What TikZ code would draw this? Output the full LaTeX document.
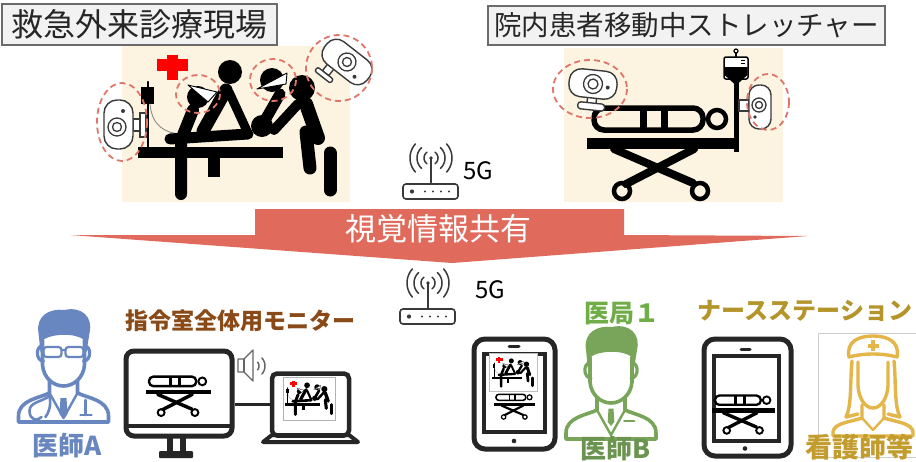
\documentclass[tikz,border=0pt]{standalone}
\usepackage{fontspec}
\newfontfamily\jp{Noto Sans CJK JP}
\definecolor{cream}{HTML}{FDF3E1}
\definecolor{titlefill}{HTML}{F2F2F2}
\definecolor{titleline}{HTML}{6B6B6B}
\definecolor{banner}{HTML}{E06B5D}
\definecolor{camring}{HTML}{E0766A}
\definecolor{icongray}{HTML}{3A3A3A}
\definecolor{devblack}{HTML}{262626}
\definecolor{docblue}{HTML}{6886C0}
\definecolor{docgreen}{HTML}{78A55A}
\definecolor{nursegold}{HTML}{E4B548}
\definecolor{monbrown}{HTML}{8A4A18}
\definecolor{ikyoku}{HTML}{70AD47}
\definecolor{station}{HTML}{B4952A}
\definecolor{kango}{HTML}{C39C2E}
\definecolor{crossred}{HTML}{FF0000}

\tikzset{
  titlebox/.style={draw=titleline, line width=2pt, fill=titlefill, inner sep=0pt, text=black!85},
  camring/.style={draw=camring, line width=1.8pt, dash pattern=on 6pt off 4pt, line cap=butt},
  cambody/.style={draw=icongray, fill=white, line width=1.4pt},
  camline/.style={draw=icongray, line width=1.3pt},
  wave/.style={draw=icongray, line width=1.5pt, line cap=round},
  boldtxt/.style={inner sep=0pt, font=\jp\bfseries\fontsize{#1}{#1}\selectfont},
  plaintxt/.style={inner sep=0pt, font=\jp\fontsize{#1}{#1}\selectfont},
  % emergency room scene: staff around a patient on a bed
  pics/erscene/.style={code={
    \begin{scope}[shift={(-238,-125)}, line cap=round]
      \fill[crossred] (157,59) rectangle (188,71);
      \fill[crossred] (167,55) rectangle (178,80);
      \draw[line width=#1*2.2pt] (148,82) -- (148,156);
      \fill (141,87) rectangle (154,104);
      \draw[black!45, line width=#1*0.9pt] (150,104) .. controls (152,126) and (165,133) .. (181,134);
      \fill (138,147) rectangle (283,158);
      \draw[line width=#1*11pt] (170,139) -- (248,134);
      \fill (262,126) circle (11);
      \fill (198,97) circle (11);
      \draw[line width=#1*12pt] (193,110) -- (181,140) -- (181,194);
      \fill (230,72) circle (12);
      \draw[line width=#1*13pt] (226,90) -- (203,131);
      \draw[line width=#1*9pt] (229,92) -- (247,131);
      \draw[line width=#1*12pt, line cap=butt] (214,152) -- (214,177);
      \fill (272,80) circle (12);
      \draw[line width=#1*11pt] (280,94) -- (264,122);
      \fill (302,88) circle (13);
      \draw[line width=#1*10pt] (298,104) -- (274,130);
      \draw[line width=#1*14pt] (306,104) -- (318,138);
      \draw[line width=#1*13pt] (306,132) -- (310,168);
      \draw[line width=#1*13pt] (330,153) -- (330,190);
      \filldraw[fill=white, line width=#1*0.9pt, line join=round] (188,85) -- (217,92) -- (208,102) -- cycle;
      \filldraw[fill=white, line width=#1*0.9pt, line join=round] (257,89) -- (287,73) -- (286,84) -- cycle;
    \end{scope}
  }},
  % stretcher with a lying patient
  pics/stretcher/.style={code={
    \begin{scope}[shift={(-660,-150)}]
      \draw[line width=#1*5.5pt, rounded corners=#1*10pt] (594,108) rectangle (703,130);
      \fill (640,108) rectangle (647,130);
      \fill (661,108) rectangle (668,130);
      \draw[line width=#1*4.5pt] (717,119) circle (9);
      \fill (587,138) rectangle (737,149);
      \draw[line width=#1*8pt, line cap=round] (614,149) -- (693,183);
      \draw[line width=#1*8pt, line cap=round] (694,149) -- (626,184);
      \draw[line width=#1*4.5pt] (622,191) circle (8);
      \draw[line width=#1*4.5pt] (700,191) circle (8);
    \end{scope}
  }},
  % wireless router
  pics/router/.style={code={
    \draw[wave] (0,0) -- (0,26);
    \fill[icongray] (0,0) circle (1.8);
    \foreach \r/\a in {7/55,14/48,21/42}{
      \draw[wave] plot[domain=-\a:\a, samples=15, variable=\t] ({\r*cos(\t)},{\r*sin(\t)});
      \draw[wave] plot[domain=-\a:\a, samples=15, variable=\t] ({-\r*cos(\t)},{\r*sin(\t)});
    }
    \draw[wave, line width=1.6pt, rounded corners=3pt] (-28,26) rectangle (27,41);
    \fill[icongray] (-19,33.5) circle (2.1);
    \foreach \x in {-6,2,10,18} \fill[icongray] (\x,33.5) circle (1.2);
  }},
  % outline bust: face, neck, shoulders, collar
  pics/bust/.style={code={
    \draw[line width=3.6pt, line join=round, line cap=round] (-21,-20) -- (-21,5) .. controls (-20,18) and (-10,26) .. (0,26) .. controls (10,26) and (20,18) .. (21,5) -- (21,-20);
    \draw[line width=3.2pt, line cap=round] (-21,-14) .. controls (-28,-14) and (-28,1) .. (-20,1);
    \draw[line width=3.2pt, line cap=round] (21,-14) .. controls (28,-14) and (28,1) .. (20,1);
    \draw[line width=3.6pt, line join=round, line cap=round] (-14,20) -- (-14,33) .. controls (-24,38) and (-45,40) .. (-45,56) -- (-45,62) -- (45,62) -- (45,56) .. controls (45,40) and (24,38) .. (14,33) -- (14,20);
    \draw[line width=2.4pt, line join=round, line cap=round] (-14,33) -- (0,58) -- (14,33);
  }},
  pics/malehair/.style={code={
    \fill (-23,-8) -- (-25,-27) .. controls (-28,-44) and (-14,-52) .. (1,-50) .. controls (18,-54) and (30,-43) .. (26,-27) -- (23,-8) -- (21,-8) -- (21,-20) .. controls (12,-27) and (-10,-27) .. (-21,-20) -- (-21,-8) -- cycle;
  }},
}

\begin{document}
\begin{tikzpicture}[x=1pt, y=-1pt]
\useasboundingbox (0,0) rectangle (916,461);
\fill[white] (0,0) rectangle (916,461);

% ---------- scene backgrounds ----------
\fill[cream] (122,46) rectangle (350,202);
\fill[cream] (564,48) rectangle (783,202);

% ---------- titles ----------
\node[titlebox, minimum width=275pt, minimum height=41pt, plaintxt=32] (erTitle) at (139.5,24.5) {救急外来診療現場};
\node[titlebox, minimum width=397pt, minimum height=39pt, plaintxt=27.5] (moveTitle) at (686.5,25.5) {院内患者移動中ストレッチャー};

% ---------- emergency room scene ----------
\pic at (238,125) {erscene=1};
% wall camera on the monitor pole
\draw[cambody] (133,119) rectangle (140,131);
\draw[cambody] (140,113) rectangle (146,137);
\draw[cambody, rounded corners=13pt] (104,100) rectangle (133,149);
\draw[camline] (117,127) circle (9) (117,127) circle (4.5);
\fill[icongray] (123,111) circle (2);
% ceiling camera
\begin{scope}[shift={(347,62)}, rotate=-38]
  \draw[cambody] (-14,12) rectangle (-6,22);
  \draw[cambody, rounded corners=2pt] (-20,22) rectangle (0,27);
  \draw[cambody, rounded corners=12pt] (-27,-14) rectangle (27,14);
  \draw[camline] (0,0) circle (9) (0,0) circle (4.5);
  \fill[icongray] (15,7) circle (2);
\end{scope}
\draw[camring] (122,122) ellipse (25 and 39);
\draw[camring] (198,94) ellipse (22 and 19);
\draw[camring] (273,80) ellipse (23 and 21);
\draw[camring] (339,68) circle (33);

% ---------- stretcher scene ----------
\pic at (660,150) {stretcher=1};
% drip stand
\draw[line width=5pt] (736,80) -- (736,152);
\draw[line width=1.5pt, rounded corners=2pt, fill=white] (724,57) rectangle (748,79);
\fill (724.5,67) -- (747.5,67) -- (747.5,75) -- (737.5,84) -- (734.5,84) -- (724.5,75) -- cycle;
\draw[line width=1.5pt] (736,57) -- (736,53);
\draw[line width=1.2pt] (736,51) circle (2);
\draw[line width=1pt] (741,60) -- (745,60) (741,63) -- (745,63);
% web camera
\begin{scope}[shift={(593,84)}, rotate=-6]
  \draw[cambody] (-4,12) rectangle (5,20);
  \draw[cambody, rounded corners=3pt] (-13,19) rectangle (14,26);
  \draw[cambody, rounded corners=12pt] (-24,-14) rectangle (24,14);
  \draw[camline] (0,0) circle (9.5) (0,0) circle (5);
  \fill[icongray] (15,2) circle (2);
\end{scope}
% pole camera
\draw[cambody] (739,100) rectangle (749,111);
\draw[cambody, rounded corners=10pt] (749,85) rectangle (771,129);
\draw[camline] (759,105) circle (7) (759,105) circle (3.5);
\fill[icongray] (755,117) circle (1.8);
\draw[camring] (590,89) ellipse (37 and 29);
\draw[camring] (768,102) ellipse (21 and 28);

% ---------- 5G links and sharing banner ----------
\pic at (431,158) {router};
\node[plaintxt=24] (g1) at (478,171) {5G};
\fill[banner] (255,209) -- (624,209) -- (624,235) -- (808,236) -- (452,263) -- (70,235) -- (255,235) -- cycle;
\node[plaintxt=31, text=white] (share) at (438,229) {視覚情報共有};
\pic at (428,283) {router};
\node[plaintxt=24] (g2) at (490,290) {5G};

% ---------- doctor A ----------
\begin{scope}[shift={(63.5,360)}, docblue]
  \pic {bust};
  \pic {malehair};
  \draw[line width=2.2pt, rounded corners=3pt] (-20,-13) rectangle (-2,-3) (2,-13) rectangle (20,-3);
  \draw[line width=2.2pt] (-2,-10) -- (2,-10) (-20,-11) -- (-25,-12) (20,-11) -- (25,-12);
  \fill (-3,38) -- (3,38) -- (4,54) -- (0,59) -- (-4,54) -- cycle;
  \draw[line width=2.6pt, line cap=round] (-14,36) .. controls (-22,42) and (-34,42) .. (-34,51) .. controls (-34,60) and (-26,62) .. (-22,57);
  \draw[line width=2.6pt, line cap=round] (-14,36) .. controls (-12,46) and (-15,53) .. (-18,57);
  \draw[line width=2.6pt, line cap=round] (22,40) -- (22,55) (17,55) -- (28,55);
\end{scope}
\node[boldtxt=26, text=docblue] (docA) at (67,446) {医師A};

% ---------- command room monitor ----------
\node[boldtxt=23, text=monbrown] (monTitle) at (240,321) {指令室全体用モニター};
\node[draw=devblack, line width=5pt, rounded corners=8pt, minimum width=106pt, minimum height=85pt, inner sep=0pt] (monitor) at (179,393.5) {};
\draw[devblack, line width=4pt] (126,426) -- (232,426);
\fill[devblack] (167,437) rectangle (173,452);
\fill[devblack] (180,437) rectangle (186,452);
\fill[devblack, rounded corners=1pt] (159,451) rectangle (193,458);
\pic[scale=0.433] at (177.6,394.8) {stretcher=0.433};
% speaker
\draw[black!60, line width=1.3pt, fill=white, line join=round] (238,359) -- (244,359) -- (253,350) -- (253,381) -- (244,372) -- (238,372) -- cycle;
\draw[black!60, line width=1.3pt] (244,359) -- (244,372);
\draw[black!60, line width=1.5pt, line cap=round] plot[domain=-40:40, samples=12, variable=\t] ({253+6*cos(\t)},{366+6*sin(\t)});
\draw[black!60, line width=1.5pt, line cap=round] plot[domain=-42:42, samples=12, variable=\t] ({253+12*cos(\t)},{366+12*sin(\t)});
% laptop
\node[draw=devblack, line width=4.5pt, rounded corners=5pt, minimum width=77pt, minimum height=62pt, inner sep=0pt] (laptop) at (310.5,404.5) {};
\draw[black!30, line width=0.6pt, fill=white] (283,377) rectangle (335,420);
\pic[scale=0.24] at (309,398) {erscene=0.24};
\draw[devblack, line width=4pt, line join=round] (263,442) -- (272,435) -- (349,435) -- (358,442) -- cycle;
\draw[devblack, line width=3pt] (monitor.east |- laptop.west) -- (laptop.west);

% ---------- tablet with both views ----------
\node[draw=devblack, line width=5pt, rounded corners=11pt, minimum width=81pt, minimum height=110pt, inner sep=0pt] (tabA) at (514.5,394) {};
\draw[devblack, line width=4.5pt] (484,354) rectangle (545,432);
\draw[black!25, line width=0.6pt, fill=white] (489,353) rectangle (537,391);
\pic[scale=0.21] at (513,372) {erscene=0.21};
\pic[scale=0.273] at (514,405.8) {stretcher=0.273};
\draw[devblack, line width=3pt, line cap=round] (509,346) -- (519,346);
\fill[devblack] (514,441) circle (2.3);

% ---------- medical office ----------
\node[boldtxt=25, text=ikyoku] (ikyokuTitle) at (622,314) {医局１};
\begin{scope}[shift={(611,377)}, scale=0.83, docgreen]
  \pic {bust};
  \pic {malehair};
  \fill (-3,38) -- (3,38) -- (4,54) -- (0,59) -- (-4,54) -- cycle;
  \draw[line width=2.4pt, line cap=round] (16,53) -- (28,53);
\end{scope}
\node[boldtxt=26, text=docgreen!90!black] (docB) at (616,449) {医師B};

% ---------- nurse station ----------
\node[boldtxt=24, text=station] (stationTitle) at (805,311) {ナースステーション};
\node[draw=devblack, line width=5pt, rounded corners=11pt, minimum width=87pt, minimum height=117pt, inner sep=0pt] (tabB) at (747.5,397.5) {};
\draw[devblack, line width=4.5pt] (714,356) rectangle (779,441);
\pic[scale=0.42] at (742.7,413.2) {stretcher=0.42};
\draw[devblack, line width=3pt, line cap=round] (741,349) -- (750,349);
\fill[devblack] (745,448.5) circle (2.3);

\draw[black!20, line width=1pt, fill=white] (818,333) rectangle (920,457);
\begin{scope}[nursegold, line width=3.4pt, line join=round, line cap=round]
  \draw (849,357) .. controls (846,342) and (858,336) .. (873,336) .. controls (888,336) and (900,342) .. (897,357) .. controls (882,353) and (864,353) .. (849,357) -- cycle;
  \fill (871,340) rectangle (875,351);
  \fill (867.5,343.5) rectangle (878.5,347.5);
  \draw (858,362) -- (858,386) .. controls (859,400) and (866,408) .. (873,408) .. controls (880,408) and (887,400) .. (888,386) -- (888,362);
  \draw (852,361) .. controls (850,380) and (852,405) .. (846,417) -- (858,414);
  \draw (894,361) .. controls (896,380) and (894,405) .. (900,417) -- (888,414);
  \draw (862,405) -- (862,418) .. controls (850,422) and (834,423) .. (833,432) -- (833,436) -- (913,436) -- (913,432) .. controls (912,423) and (896,422) .. (884,418) -- (884,405);
  \draw[line width=2.4pt] (862,418) -- (873,430) -- (884,418);
\end{scope}
\node[boldtxt=27, text=kango] (nurseLabel) at (859,447) {看護師等};
\end{tikzpicture}
\end{document}
